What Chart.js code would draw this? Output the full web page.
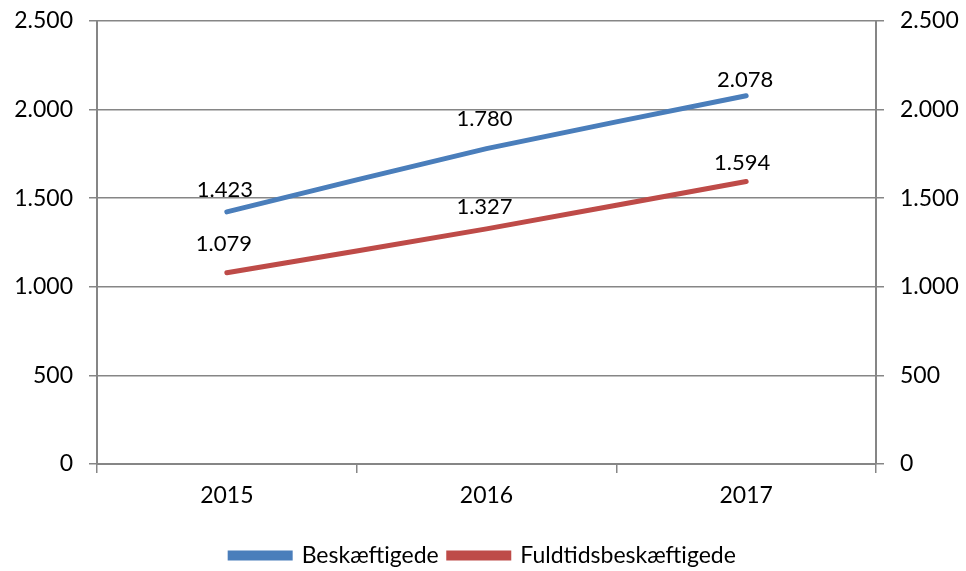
<!DOCTYPE html>
<html>
<head>
<meta charset="utf-8">
<script src="https://cdn.jsdelivr.net/npm/chart.js@4.4.1/dist/chart.umd.min.js"></script>
<style>
  html, body { margin: 0; padding: 0; background: #fff; }
  #wrap { width: 966px; height: 571px; }
</style>
</head>
<body>
<div id="wrap"><canvas id="chart"></canvas></div>
<script>
const years = ['2015', '2016', '2017'];
const beskaeftigede = [1423, 1780, 2078];
const fuldtids = [1079, 1327, 1594];
const yTicks = [0, 500, 1000, 1500, 2000, 2500];

const fmt = v => v.toLocaleString('da-DK');

// where each value label sits relative to its point
const labelOffsets = [
    [[-2, -22], [-2, -30], [-1, -16]],
    [[-3, -29], [-2, -22], [-4, -19]]
];

const valueLabels = {
    id: 'valueLabels',
    afterDatasetsDraw(chart) {
        const ctx = chart.ctx;
        ctx.save();
        ctx.font = '22px Lato';
        ctx.fillStyle = '#000';
        ctx.textAlign = 'center';
        ctx.textBaseline = 'middle';
        chart.data.datasets.forEach((ds, i) => {
            chart.getDatasetMeta(i).data.forEach((pt, j) => {
                const off = labelOffsets[i][j];
                ctx.fillText(fmt(ds.data[j]), pt.x + off[0], pt.y + off[1]);
            });
        });
        ctx.restore();
    }
};

const gridColor = '#868686';

function fitY(width) {
    return s => {
        s.width = width;
        s.paddingTop = 21;
        s.paddingBottom = 0;
    };
}

const ctxLine = document.getElementById('chart').getContext('2d');
const lineChart = new Chart(ctxLine, {
    type: 'line',
    data: {
        labels: years,
        datasets: [{
            label: 'Beskæftigede',
            data: beskaeftigede,
            borderColor: '#4A7EBB',
            backgroundColor: '#4A7EBB',
            borderWidth: 5,
            pointRadius: 0,
            tension: 0.15,
            borderCapStyle: 'round',
            yAxisID: 'y'
        }, {
            label: 'Fuldtidsbeskæftigede',
            data: fuldtids,
            borderColor: '#BE4B48',
            backgroundColor: '#BE4B48',
            borderWidth: 5,
            pointRadius: 0,
            tension: 0.15,
            borderCapStyle: 'round',
            yAxisID: 'y'
        }]
    },
    options: {
        responsive: true,
        maintainAspectRatio: false,
        animation: false,
        layout: { padding: { top: 0, left: 0, right: 0, bottom: -6 } },
        scales: {
            x: {
                offset: true,
                afterFit: s => { s.height = 70; },
                grid: {
                    offset: true,
                    drawOnChartArea: false,
                    drawTicks: true,
                    tickLength: 9,
                    color: gridColor,
                    lineWidth: 1.5
                },
                border: { color: gridColor, width: 2 },
                ticks: {
                    color: '#000',
                    padding: 9,
                    font: { family: 'Lato', size: 23 }
                }
            },
            y: {
                position: 'left',
                min: 0,
                max: 2500,
                afterFit: fitY(97),
                afterBuildTicks: s => { s.ticks = yTicks.map(v => ({ value: v })); },
                grid: {
                    color: gridColor,
                    lineWidth: 1.5,
                    tickLength: 8
                },
                border: { color: gridColor, width: 2 },
                ticks: {
                    color: '#000',
                    padding: 16,
                    font: { family: 'Lato', size: 23 },
                    callback: v => fmt(v)
                }
            },
            y1: {
                position: 'right',
                min: 0,
                max: 2500,
                afterFit: fitY(90),
                afterBuildTicks: s => { s.ticks = yTicks.map(v => ({ value: v })); },
                grid: {
                    drawOnChartArea: false,
                    color: gridColor,
                    lineWidth: 1.5,
                    tickLength: 8
                },
                border: { color: gridColor, width: 2 },
                ticks: {
                    color: '#000',
                    padding: 16,
                    font: { family: 'Lato', size: 23 },
                    callback: v => fmt(v)
                }
            }
        },
        plugins: {
            legend: {
                position: 'bottom',
                labels: {
                    color: '#000',
                    boxWidth: 60,
                    boxHeight: 5,
                    padding: 10,
                    font: { family: 'Lato', size: 23 }
                }
            },
            tooltip: { enabled: false }
        }
    },
    plugins: [valueLabels]
});
</script>
</body>
</html>
